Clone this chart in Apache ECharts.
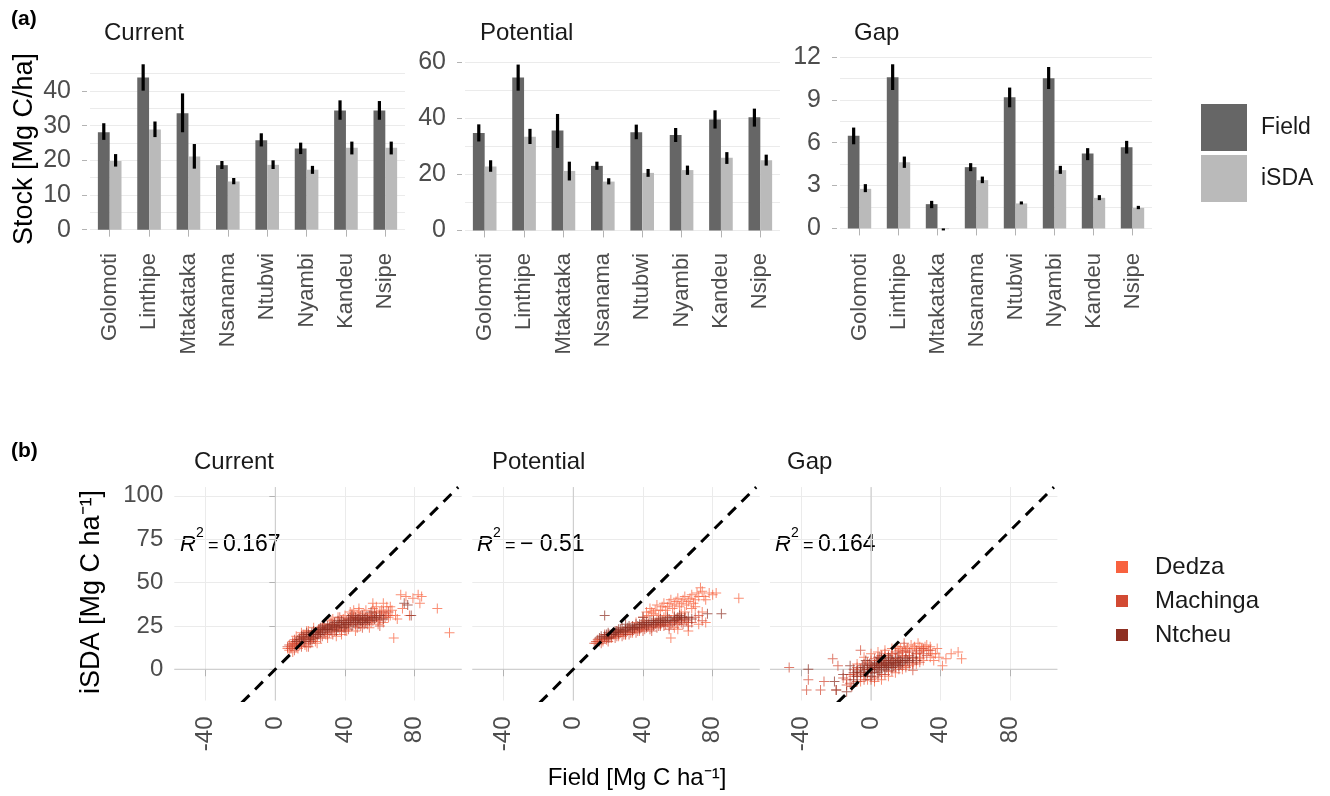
<!DOCTYPE html>
<html><head><meta charset="utf-8">
<script src="https://cdn.jsdelivr.net/npm/echarts@6/dist/echarts.min.js"></script>
<style>html,body{margin:0;padding:0;background:#fff}#c{width:1330px;height:796px}</style>
</head><body><div id="c"></div>
<script>
// ---------- DATA ----------
const sites = ['Golomoti','Linthipe','Mtakataka','Nsanama','Ntubwi','Nyambi','Kandeu','Nsipe'];

const currentField   = [28.1, 43.9, 33.6, 18.6, 25.8, 23.4, 34.4, 34.4];
const currentFieldLo = [25.9, 40.1, 28.1, 17.5, 24.0, 21.8, 31.7, 31.7];
const currentFieldHi = [30.7, 47.7, 39.3, 19.8, 27.8, 25.1, 37.3, 37.1];
const currentISDA    = [19.8, 28.9, 21.1, 13.9, 18.7, 17.3, 23.6, 23.6];
const currentISDALo  = [18.2, 26.7, 17.6, 13.1, 17.5, 16.1, 21.7, 21.7];
const currentISDAHi  = [21.8, 31.2, 24.7, 14.9, 20.0, 18.4, 25.4, 25.4];

const potentialField   = [34.7, 54.5, 35.6, 23.0, 35.0, 34.0, 39.5, 40.3];
const potentialFieldLo = [31.7, 49.8, 29.4, 21.6, 32.5, 31.5, 36.3, 37.0];
const potentialFieldHi = [37.8, 59.1, 41.5, 24.5, 37.7, 36.5, 42.8, 43.4];
const potentialISDA    = [22.8, 33.4, 21.2, 17.4, 20.5, 21.5, 25.9, 25.0];
const potentialISDALo  = [20.9, 30.8, 17.8, 16.4, 19.1, 19.8, 23.7, 23.1];
const potentialISDAHi  = [25.0, 36.2, 24.5, 18.6, 21.9, 23.1, 27.9, 27.0];

const gapField   = [6.48, 10.58, 1.70, 4.29, 9.18, 10.51, 5.24, 5.69];
const gapFieldLo = [5.89, 9.69, 1.42, 4.01, 8.48, 9.76, 4.78, 5.24];
const gapFieldHi = [7.06, 11.49, 1.93, 4.57, 9.86, 11.30, 5.62, 6.13];
const gapISDA    = [2.77, 4.64, -0.05, 3.38, 1.75, 4.08, 2.14, 1.44];
const gapISDALo  = [2.54, 4.24, -0.14, 3.17, 1.68, 3.82, 1.98, 1.35];
const gapISDAHi  = [3.10, 5.03, 0.00, 3.63, 1.89, 4.38, 2.33, 1.58];

const currentTicks = [0, 10, 20, 30, 40];
const currentGrid  = [0, 5, 10, 15, 20, 25, 30, 35, 40, 45];
const potentialTicks = [0, 20, 40, 60];
const potentialGrid  = [0, 10, 20, 30, 40, 50, 60];
const gapTicks = [0, 3, 6, 9, 12];
const gapGrid  = [0, 1.5, 3, 4.5, 6, 7.5, 9, 10.5, 12];

const scatterXTicks = [-40, 0, 40, 80];
const scatterYTicks = [0, 25, 50, 75, 100];
const r2Values = ['0.167', '\u2212 0.51', '0.164'];
const panelTitles = ['Current', 'Potential', 'Gap'];
const districts = ['Dedza', 'Machinga', 'Ntcheu'];

const curDedza = [[8,11],[10,16],[12,19],[13,12],[15,21],[17,14],[18,22],[20,17],[22,24],[24,15],[26,20],[28,26],[30,18],[32,28],[34,22],[36,30],[38,20],[40,31],[42,25],[44,32],[46,22],[48,33],[50,28],[52,34],[54,24],[56,35],[58,30],[60,33],[62,27],[64,36],[66,31],[68,18],[72,43],[75,42],[79,41],[82,43],[84,42],[83,38],[77,31],[93,35],[100,21],[56,38],[62,38],[70,29],[12,14],[16,18],[25,23],[35,19],[45,29],[55,27],
  [9,13],[11,15],[14,14],[17,20],[19,22],[21,18],[23,16],[27,24],[29,20],[31,26],[33,29],[37,23],[39,29],[41,22],[43,33],[47,31],[49,25],[51,32],[53,28],[57,33],[59,26],[61,34],[63,32],[65,30],[67,34],[69,31],[7,12],[10,10],[18,13],[45,34],[55,31],[48,35],[58,36],[66,36],[73,35]];
const curMachinga = [[7,13],[9,12],[11,17],[13,15],[14,18],[16,16],[18,19],[19,13],[21,20],[23,18],[25,22],[27,19],[29,24],[31,21],[33,26],[35,23],[37,27],[39,24],[41,28],[43,26],[45,30],[47,27],[49,31],[51,26],[53,30],[55,29],[57,32],[59,28],[61,31],[63,30],[65,33],[10,14],[15,13],[20,15],[30,20],[40,22],[50,24],[60,25],[24,19],[34,25],
  [8,14],[10,15],[12,13],[13,17],[15,15],[17,18],[19,17],[21,16],[22,20],[24,22],[26,18],[28,21],[30,23],[32,22],[34,24],[36,25],[38,22],[40,27],[42,23],[44,29],[46,26],[48,30],[50,29],[52,28],[54,31],[56,28],[58,31],[60,29],[62,33],[64,31],[11,11],[16,20],[27,25],[33,20],[43,30],[53,26],[37,30],[47,24]];
const curNtcheu = [[12,16],[15,19],[18,21],[20,19],[22,22],[24,20],[26,24],[28,22],[30,25],[32,23],[34,27],[36,24],[38,28],[40,26],[42,27],[44,25],[46,28],[48,29],[50,27],[52,30],[54,28],[58,30],[62,29],[74,38],[76,37],[78,31],[55,33],[44,31],[36,28],[28,25],
  [14,17],[16,18],[19,20],[21,21],[23,21],[25,23],[27,23],[29,23],[31,24],[33,25],[35,25],[37,26],[39,27],[41,26],[43,28],[45,27],[47,29],[49,28],[51,29],[53,29],[56,30],[60,31],[17,16],[22,18],[26,21],[32,26],[38,25],[42,29],[46,30],[50,31],[35,22],[30,23],[25,20],[20,17],[40,24],[48,26],[52,27],[57,29]];

const potDedza = [[13,15],[16,17],[20,19],[24,20],[28,22],[32,24],[36,27],[40,30],[42,33],[44,35],[46,32],[48,37],[50,34],[52,38],[54,36],[56,40],[58,37],[60,41],[62,38],[64,42],[66,39],[68,43],[70,40],[71,44],[73,47],[75,42],[78,44],[82,44],[95,41],[58,31],[64,33],[68,35],[48,29],[54,31],[60,23],[66,22],[72,26],[56,18],[50,26],[38,22],
  [14,16],[17,16],[19,17],[22,18],[26,19],[30,20],[34,21],[38,24],[41,28],[43,31],[45,33],[47,34],[49,31],[51,36],[53,34],[55,38],[57,35],[59,39],[61,36],[63,40],[65,37],[67,41],[69,38],[72,42],[74,45],[76,40],[80,43],[52,30],[62,32],[70,36],[66,27],[58,24],[74,33],[46,27],[76,27]];
const potMachinga = [[12,15],[14,17],[16,15],[18,18],[20,16],[22,19],[24,18],[26,20],[28,19],[30,21],[32,20],[34,22],[36,21],[38,23],[40,22],[42,24],[44,23],[46,25],[48,24],[50,26],[52,25],[54,27],[56,26],[58,28],[60,26],[62,27],[64,29],[66,25],[70,30],[74,28],[18,20],[25,22],[35,24],[45,22],[55,23],
  [13,16],[15,16],[17,17],[19,18],[21,18],[23,20],[25,19],[27,21],[29,20],[31,22],[33,21],[35,23],[37,22],[39,24],[41,23],[43,25],[45,24],[47,26],[49,25],[51,27],[53,26],[55,25],[57,27],[59,27],[61,28],[63,26],[65,28],[68,27],[72,31],[20,20],[30,20],[40,25],[50,25],[60,29]];
const potNtcheu = [[15,18],[18,19],[20,21],[22,20],[24,22],[26,21],[28,24],[30,22],[32,25],[34,23],[36,26],[38,24],[40,27],[42,25],[44,28],[46,26],[48,27],[50,29],[52,27],[55,29],[58,30],[61,31],[64,30],[18,31],[77,32],[85,32],[62,30],[68,29],[40,30],[30,26],
  [16,19],[19,20],[21,20],[23,21],[25,22],[27,23],[29,22],[31,24],[33,24],[35,24],[37,25],[39,26],[41,26],[43,26],[45,27],[47,27],[49,28],[51,28],[53,28],[56,28],[59,29],[62,29],[66,30],[20,18],[26,23],[34,25],[42,27],[50,27],[58,28],[46,28],[38,26],[30,23],[24,21],[54,30],[60,30]];

const gapDedza = [[20,10],[24,12],[28,13],[30,11],[32,14],[34,13],[37,9],[26,9],[22,7],[18,8],[14,6],[10,5],[6,3],[2,1],[-2,0],[-6,-2],[16,11],[12,9],[8,7],[4,5],[28,6],[24,4],[20,2],[46,9],[50,10],[52,6],[43,6],[41,2],[36,5],[-10,-3],
  [15,13],[17,12],[19,13],[21,12],[23,14],[25,13],[27,15],[29,12],[31,13],[33,11],[35,9],[38,12],[39,7],[34,7],[30,5],[26,3],[22,2],[18,0],[14,-2],[10,-4],[6,-6],[2,-7],[-2,-6],[-6,-7],[-8,3],[-4,7],[0,9],[4,10],[8,11],[12,12]];
const gapMachinga = [[-14,-6],[-10,-4],[-8,-2],[-6,0],[-4,-3],[-2,2],[0,0],[2,3],[4,1],[6,4],[8,2],[10,5],[12,3],[14,6],[16,4],[18,7],[20,5],[22,8],[24,6],[26,9],[28,7],[30,9],[-12,-8],[-16,-5],[-20,-12],[-22,6],[-19,2],[-27,-7],[-29,-12],[-37,-12],[-36,-6],[-47,1],[2,-5],[6,-3],[10,-1],[14,1],[18,2],[-6,11],[24,-0.5],[19,15],
  [-12,-3],[-10,0],[-8,1],[-6,-4],[-4,3],[-2,4],[0,5],[2,6],[4,7],[6,8],[8,9],[10,8],[12,9],[14,10],[16,9],[18,10],[20,11],[22,10],[26,11],[28,10],[30,12],[-14,-9],[-8,-7],[-4,-6],[0,-6],[4,-4],[8,-3],[12,-1],[16,0],[20,1],[24,3],[28,4],[32,8],[34,11],[-11,-10]];
const gapNtcheu = [[-8,-1],[-4,1],[-2,-2],[0,2],[2,0],[4,3],[6,1],[8,4],[10,2],[12,5],[14,3],[16,5],[18,4],[20,6],[-10,-6],[-14,-13],[-21,-7],[-36,0],[-12,2],[0,-4],[4,-2],[8,0],[12,1],[16,2],[22,4],[26,5],[-16,-3],[-20,-12],[-3,5],[5,7],
  [-6,-2],[-4,-1],[-2,0],[0,0],[1,1],[2,2],[3,1],[5,2],[6,3],[7,2],[9,3],[10,4],[11,3],[13,4],[15,4],[17,5],[19,5],[-8,-4],[-5,2],[-1,3],[3,4],[7,5],[11,6],[15,7],[1,-2],[5,-1],[9,1],[13,2],[17,3],[21,5],[-10,-2],[-3,-4],[24,7],[6,6],[10,7]];

// ---------- STYLE / LAYOUT ----------
const FONT = '"Liberation Sans", Arial, sans-serif';
const FIELD_C = '#666666', ISDA_C = '#bababa';
const DIST_C = ['#f8623f', '#d24a33', '#8e2f22'];
const GRIDC = '#ebebeb';
const AXT = '#4d4d4d';

const barPanels = [
  {left: 90,  width: 315, field: currentField, fLo: currentFieldLo, fHi: currentFieldHi, isda: currentISDA, iLo: currentISDALo, iHi: currentISDAHi, min: -2.4, max: 49.8, ticks: currentTicks, lines: currentGrid},
  {left: 465, width: 315, field: potentialField, fLo: potentialFieldLo, fHi: potentialFieldHi, isda: potentialISDA, iLo: potentialISDALo, iHi: potentialISDAHi, min: -2.7, max: 61.8, ticks: potentialTicks, lines: potentialGrid},
  {left: 840, width: 312, field: gapField, fLo: gapFieldLo, fHi: gapFieldHi, isda: gapISDA, iLo: gapISDALo, iHi: gapISDAHi, min: -0.67, max: 12.0, ticks: gapTicks, lines: gapGrid}
];
const scatterPanels = [
  {left: 174.3, data: [curDedza, curMachinga, curNtcheu]},
  {left: 472.3, data: [potDedza, potMachinga, potNtcheu]},
  {left: 770.0, data: [gapDedza, gapMachinga, gapNtcheu]}
];
const SX = [-58, 107], SY = [-18, 105];

const grid = [], xAxis = [], yAxis = [], series = [], graphic = [];

function errSeries(lo, hi, side, ai) {
  return {
    type: 'custom', xAxisIndex: ai, yAxisIndex: ai, z: 5, silent: true,
    encode: {x: 0, y: [1, 2]},
    data: lo.map((v, i) => [i, v, hi[i]]),
    renderItem: function (params, api) {
      const a = api.coord([api.value(0), api.value(1)]);
      const b = api.coord([api.value(0), api.value(2)]);
      const bw = api.size([1, 0])[0];
      const x = a[0] + side * 0.15 * bw;
      return {type: 'line', shape: {x1: x, y1: a[1], x2: x, y2: b[1]}, style: {stroke: '#000', lineWidth: 3.2}};
    }
  };
}

barPanels.forEach((p, k) => {
  grid.push({left: p.left, width: p.width, top: 57, height: 181, outerBoundsMode: 'none', containLabel: false});
  xAxis.push({type: 'category', gridIndex: k, data: sites,
    axisLine: {show: false},
    axisTick: {show: true, alignWithLabel: true, length: 7, lineStyle: {color: '#b3b3b3'}},
    axisLabel: {rotate: 90, interval: 0, fontSize: 22, color: AXT, margin: 15, fontFamily: FONT},
    splitLine: {show: false}});
  yAxis.push({type: 'value', gridIndex: k, min: p.min, max: p.max, position: 'left',
    axisLine: {show: false},
    axisTick: {show: false, customValues: p.lines},
    axisLabel: {customValues: p.ticks, fontSize: 25, color: AXT, margin: 19, fontFamily: FONT},
    splitLine: {show: true, lineStyle: {color: GRIDC, width: 1}}});
  series.push({type: 'bar', name: 'Field', xAxisIndex: k, yAxisIndex: k, data: p.field,
    barWidth: '30%', barGap: '0%', itemStyle: {color: FIELD_C}, clip: false});
  series.push({type: 'bar', name: 'iSDA', xAxisIndex: k, yAxisIndex: k, data: p.isda,
    barWidth: '30%', barGap: '0%', itemStyle: {color: ISDA_C}, clip: false});
  series.push(errSeries(p.fLo, p.fHi, -1, k));
  series.push(errSeries(p.iLo, p.iHi, 1, k));
});

const plusSym = 'path://M4.5,0h1v10h-1z M0,4.5h10v1h-10z';
scatterPanels.forEach((p, j) => {
  const k = j + 3;
  grid.push({left: p.left, width: 287.4, top: 487.1, height: 213.4, outerBoundsMode: 'none', containLabel: false});
  xAxis.push({type: 'value', gridIndex: k, min: SX[0], max: SX[1],
    axisLine: {show: false},
    axisTick: {show: true, length: 7, customValues: scatterXTicks, lineStyle: {color: '#b3b3b3'}},
    axisLabel: {customValues: scatterXTicks, rotate: 90, fontSize: 24, color: AXT, margin: 16, fontFamily: FONT},
    splitLine: {show: true, lineStyle: {color: GRIDC, width: 1}}});
  yAxis.push({type: 'value', gridIndex: k, min: SY[0], max: SY[1], position: 'left',
    axisLine: {show: false},
    axisTick: {show: j === 0, length: 6, customValues: scatterYTicks, lineStyle: {color: '#b3b3b3'}},
    axisLabel: {show: j === 0, customValues: scatterYTicks, fontSize: 24, color: AXT, margin: 11, fontFamily: FONT},
    splitLine: {show: true, lineStyle: {color: GRIDC, width: 1}}});
  series.push({type: 'line', xAxisIndex: k, yAxisIndex: k, data: [[0, SY[0]], [0, SY[1]]], symbol: 'none', silent: true, z: 1,
    lineStyle: {color: '#c8c8c8', width: 1}});
  series.push({type: 'line', xAxisIndex: k, yAxisIndex: k, data: [[SX[0], 0], [SX[1], 0]], symbol: 'none', silent: true, z: 1,
    lineStyle: {color: '#c8c8c8', width: 1}});
  p.data.forEach((d, m) => {
    series.push({type: 'scatter', name: districts[m], xAxisIndex: k, yAxisIndex: k, data: d,
      symbol: plusSym, symbolSize: 10, z: 2 + m * 0.1,
      itemStyle: {color: DIST_C[m], opacity: 0.72}});
  });
  series.push({type: 'line', xAxisIndex: k, yAxisIndex: k, data: [[SX[0], SX[0]], [SY[1], SY[1]]], symbol: 'none', silent: true, z: 10, clip: true,
    lineStyle: {color: '#000', width: 3, type: [11, 8]}});
});

// extra tick-only y axes for the bar panels (major ticks only)
barPanels.forEach((p, k) => {
  yAxis.push({type: 'value', gridIndex: k, min: p.min, max: p.max, position: 'left', offset: 3,
    axisLine: {show: false},
    axisTick: {show: true, length: 5, customValues: p.ticks, lineStyle: {color: '#b3b3b3'}},
    axisLabel: {show: false}, splitLine: {show: false}});
});

function txt(x, y, s, o) {
  graphic.push({type: 'text', x: x, y: y, silent: true,
    style: Object.assign({text: s, fontFamily: FONT, fontSize: 24, fill: '#1a1a1a', textVerticalAlign: 'middle'}, o || {})});
}
txt(11, 19, '(a)', {fontWeight: 'bold', fontSize: 21, fill: '#000'});
txt(11, 451, '(b)', {fontWeight: 'bold', fontSize: 21, fill: '#000'});
[104, 480, 854].forEach((x, i) => txt(x, 33, panelTitles[i]));
[194, 492, 787].forEach((x, i) => txt(x, 462, panelTitles[i]));
graphic.push({type: 'text', x: 25, y: 149, rotation: Math.PI / 2, silent: true,
  style: {text: 'Stock [Mg C/ha]', fontFamily: FONT, fontSize: 27, fill: '#000', textAlign: 'center', textVerticalAlign: 'middle'}});
graphic.push({type: 'text', x: 92, y: 592, rotation: Math.PI / 2, silent: true,
  style: {text: 'iSDA [Mg C ha\u207B\u00B9]', fontFamily: FONT, fontSize: 27, fill: '#000', textAlign: 'center', textVerticalAlign: 'middle'}});
graphic.push({type: 'text', x: 637, y: 778, silent: true,
  style: {text: 'Field [Mg C ha\u207B\u00B9]', fontFamily: FONT, fontSize: 24, fill: '#000', textAlign: 'center', textVerticalAlign: 'middle'}});
[180, 477, 775].forEach((x, i) => {
  txt(x, 545, 'R', {fontStyle: 'italic', fontSize: 22, fill: '#000'});
  txt(x + 16, 533, '2', {fontSize: 14, fill: '#000'});
  txt(x + 28, 546, '=', {fontSize: 18, fill: '#000'});
  txt(x + 43, 545, r2Values[i], {fontSize: 23, fill: '#000'});
});

const option = {
  animation: false,
  backgroundColor: '#fff',
  textStyle: {fontFamily: FONT},
  grid, xAxis, yAxis, series, graphic,
  legend: [
    {orient: 'vertical', left: 1201, top: 104, padding: 0, itemWidth: 46, itemHeight: 47, itemGap: 4, selectedMode: false,
      data: [{name: 'Field', icon: 'rect'}, {name: 'iSDA', icon: 'rect'}],
      textStyle: {fontSize: 23, color: '#1a1a1a', fontFamily: FONT, padding: [0, 0, 0, 9]}},
    {orient: 'vertical', left: 1116, top: 555, padding: 0, itemWidth: 12, itemHeight: 12, itemGap: 10, selectedMode: false,
      data: districts.map((d, i) => ({name: d, icon: 'rect', itemStyle: {color: DIST_C[i], opacity: 1}})),
      textStyle: {fontSize: 24, color: '#1a1a1a', fontFamily: FONT, lineHeight: 24, padding: [0, 0, 0, 22]}}
  ]
};
const chart = echarts.init(document.getElementById('c'), null, {renderer: 'canvas'});
chart.setOption(option);
</script></body></html>
